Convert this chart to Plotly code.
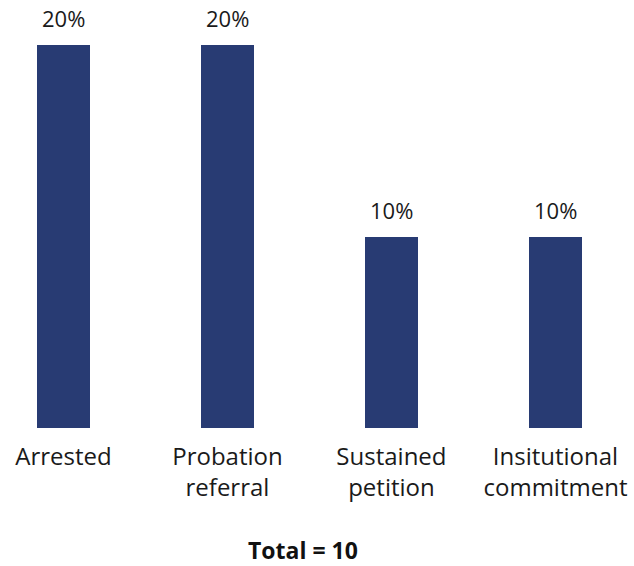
import plotly.graph_objects as go

categories = ["Arrested", "Probation<br>referral", "Sustained<br>petition", "Insitutional<br>commitment"]
percentages = [20, 20, 10, 10]
total_label = "Total = 10"

FONT = "Open Sans"
BAR_COLOR = "#283b73"
TEXT_COLOR = "#1a1a1a"

fig = go.Figure(
    go.Bar(
        x=categories,
        y=percentages,
        marker=dict(color=BAR_COLOR, line=dict(width=0)),
        width=0.323,
        hoverinfo="skip",
    )
)

# percentage labels sitting above each bar
value_labels = [
    dict(
        x=cat,
        y=val,
        xref="x",
        yref="y",
        text=f"{val}%",
        showarrow=False,
        yanchor="bottom",
        yshift=10,
        font=dict(family=FONT, size=22, color=TEXT_COLOR),
    )
    for cat, val in zip(categories, percentages)
]

fig.update_layout(
    width=634,
    height=566,
    margin=dict(l=0, r=0, t=0, b=138, autoexpand=False),
    paper_bgcolor="white",
    plot_bgcolor="white",
    showlegend=False,
    bargap=0,
    xaxis=dict(
        range=[-0.387, 3.479],
        showgrid=False,
        zeroline=False,
        showline=False,
        ticks="",
        automargin=False,
        ticklabelstandoff=12,
        tickfont=dict(family=FONT, size=24, color=TEXT_COLOR),
    ),
    yaxis=dict(
        range=[0, 22.35],
        visible=False,
    ),
    annotations=value_labels + [
        dict(
            text=f"<b>{total_label}</b>",
            x=0.478,
            xref="paper",
            y=-0.285,
            yref="paper",
            yanchor="middle",
            borderpad=0,
            showarrow=False,
            font=dict(family=FONT, size=23, color="#111111"),
        )
    ],
)

fig.write_html("out.html")
